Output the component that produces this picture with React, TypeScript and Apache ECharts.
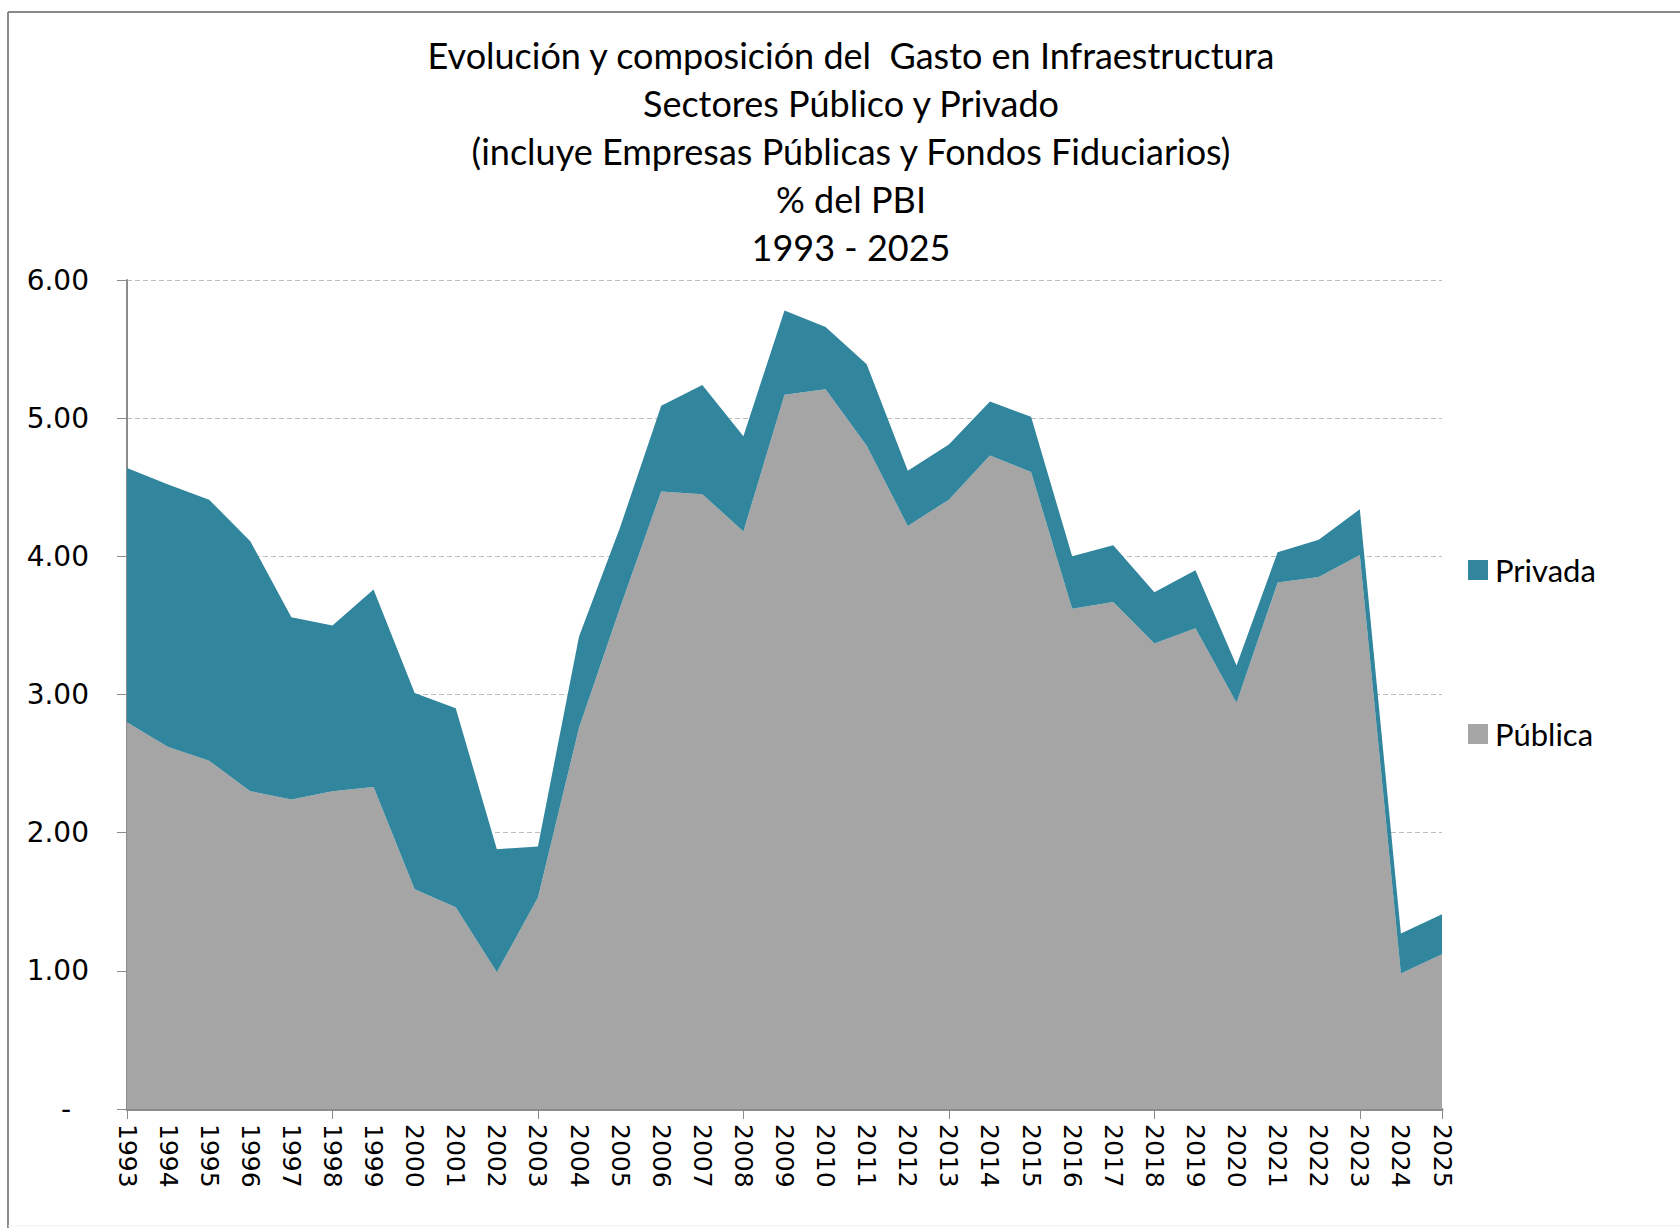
import React, { useEffect, useRef } from "react";
import * as echarts from "echarts";

const years = [
  "1993","1994","1995","1996","1997","1998","1999","2000","2001","2002","2003",
  "2004","2005","2006","2007","2008","2009","2010","2011","2012","2013","2014",
  "2015","2016","2017","2018","2019","2020","2021","2022","2023","2024","2025",
];
const publica = [
  2.80, 2.62, 2.52, 2.30, 2.24, 2.30, 2.33, 1.59, 1.46, 0.99, 1.53,
  2.76, 3.63, 4.47, 4.45, 4.18, 5.17, 5.21, 4.80, 4.22, 4.41, 4.73,
  4.61, 3.62, 3.67, 3.37, 3.48, 2.94, 3.81, 3.85, 4.01, 0.98, 1.12,
];
const total = [
  4.64, 4.52, 4.41, 4.11, 3.56, 3.50, 3.76, 3.01, 2.90, 1.88, 1.90,
  3.42, 4.21, 5.09, 5.24, 4.87, 5.78, 5.66, 5.39, 4.62, 4.81, 5.12,
  5.01, 4.00, 4.08, 3.74, 3.90, 3.21, 4.03, 4.12, 4.34, 1.27, 1.41,
];
const privada = total.map((t, i) => +(t - publica[i]).toFixed(2));
const yTicks = [0, 1, 2, 3, 4, 5, 6];
const titleLines = [
  "Evolución y composición del  Gasto en Infraestructura",
  "Sectores Público y Privado",
  "(incluye Empresas Públicas y Fondos Fiduciarios)",
  "% del PBI",
  "1993 - 2025",
];

const TEAL = "#31859C";
const GRAY = "#A5A5A5";

export default function App() {
  const ref = useRef<HTMLDivElement>(null);
  useEffect(() => {
    if (!ref.current) return;
    const chart = echarts.init(ref.current, undefined, { renderer: "svg" });
    const titleFont = "Lato, 'Open Sans', sans-serif";
    const legendText = { fontFamily: titleFont, fontSize: 31, color: "#000", lineHeight: 32, padding: [0, 0, 0, 2] };
    chart.setOption({
      animation: false,
      backgroundColor: "#ffffff",
      title: {
        text: titleLines.join("\n"),
        left: 846,
        top: 26,
        textAlign: "center",
        textStyle: {
          fontFamily: titleFont,
          fontSize: 36,
          fontWeight: "normal",
          color: "#000",
          lineHeight: 48,
        },
      },
      legend: [
        {
          data: ["Privada"],
          orient: "vertical",
          left: 1468,
          top: 570 - 16,
          padding: 0,
          itemWidth: 20,
          itemHeight: 20,
          itemGap: 0,
          icon: "rect",
          textStyle: legendText,
        },
        {
          data: ["Pública"],
          orient: "vertical",
          left: 1468,
          top: 734 - 16,
          padding: 0,
          itemWidth: 20,
          itemHeight: 20,
          itemGap: 0,
          icon: "rect",
          textStyle: legendText,
        },
      ],
      grid: { left: 127, right: 238, top: 280, bottom: 119, containLabel: false },
      xAxis: {
        type: "category",
        data: years,
        boundaryGap: false,
        axisLine: { lineStyle: { color: "#8c8c8c", width: 3 } },
        axisTick: { show: true, interval: 4, length: 10, lineStyle: { color: "#8c8c8c", width: 1 } },
        axisLabel: {
          interval: 0,
          rotate: -90,
          margin: 15,
          fontFamily: "'DejaVu Sans', Verdana, sans-serif",
          fontSize: 25,
          color: "#000",
        },
        splitLine: { show: false },
      },
      yAxis: {
        type: "value",
        min: yTicks[0],
        max: yTicks[yTicks.length - 1],
        interval: 1,
        axisLine: { show: true, lineStyle: { color: "#8c8c8c", width: 2 } },
        axisTick: { show: true, length: 10, lineStyle: { color: "#8c8c8c", width: 1 } },
        axisLabel: {
          margin: 38,
          fontFamily: "'DejaVu Sans', Verdana, sans-serif",
          fontSize: 28,
          color: "#000",
          formatter: (v: number) => (v === 0 ? "-  " : v.toFixed(2)),
        },
        splitLine: { show: true, lineStyle: { color: "#bdbdbd", type: [5, 3], width: 1 } },
      },
      graphic: [
        { type: "line", shape: { x1: 8, y1: 12, x2: 1680, y2: 12 }, style: { stroke: "#8a8a8a", lineWidth: 2 } },
        { type: "line", shape: { x1: 8, y1: 12, x2: 8, y2: 1228 }, style: { stroke: "#8a8a8a", lineWidth: 2 } },
        { type: "line", shape: { x1: 8, y1: 1226, x2: 1680, y2: 1226 }, style: { stroke: "#eeeeee", lineWidth: 1 } },
      ],
      series: [
        {
          name: "Pública",
          type: "line",
          stack: "total",
          data: publica,
          symbol: "none",
          lineStyle: { width: 0 },
          areaStyle: { color: GRAY, opacity: 1 },
          itemStyle: { color: GRAY },
          z: 2,
        },
        {
          name: "Privada",
          type: "line",
          stack: "total",
          data: privada,
          symbol: "none",
          lineStyle: { width: 0 },
          areaStyle: { color: TEAL, opacity: 1 },
          itemStyle: { color: TEAL },
          z: 2,
        },
      ],
    });
    return () => chart.dispose();
  }, []);
  return (
    <div
      ref={ref}
      style={{ position: "fixed", left: 0, top: 0, width: 1680, height: 1228, background: "#fff" }}
    />
  );
}
